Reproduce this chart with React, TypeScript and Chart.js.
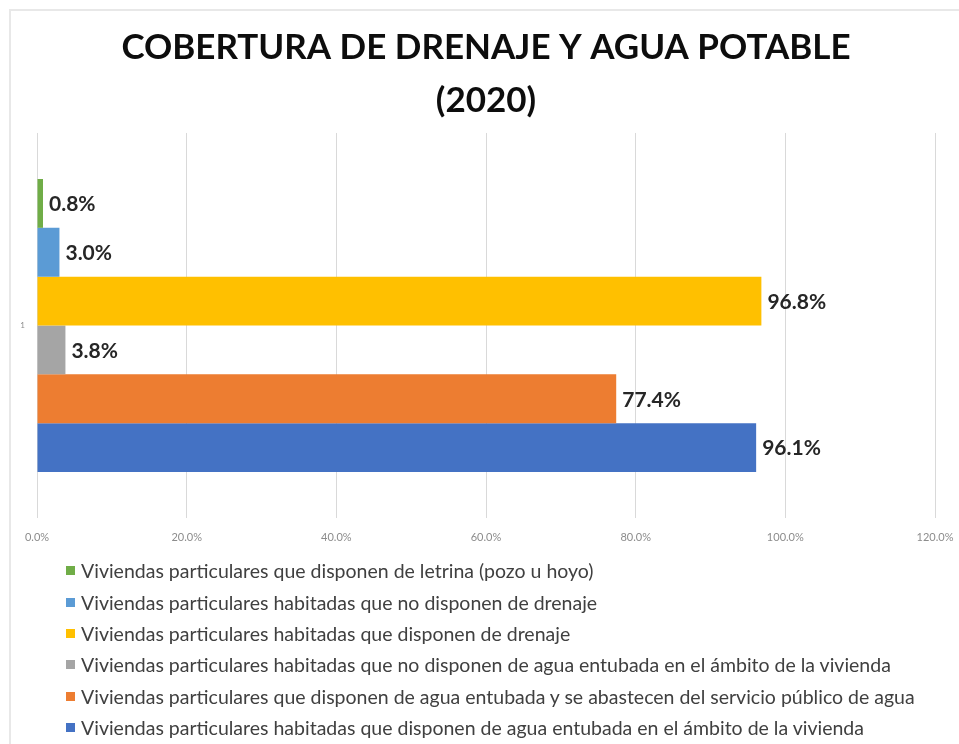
import React, { useEffect, useRef } from "react";
import { Chart, registerables } from "chart.js";

Chart.register(...registerables);

const categories = ["1"];
const seriesLabels = [
  "Viviendas particulares que disponen de letrina (pozo u hoyo)",
  "Viviendas particulares habitadas que no disponen de drenaje",
  "Viviendas particulares habitadas que disponen de drenaje",
  "Viviendas particulares habitadas que no disponen de agua entubada en el ámbito de la vivienda",
  "Viviendas particulares que disponen de agua entubada y se abastecen del servicio público de agua",
  "Viviendas particulares habitadas que disponen de agua entubada en el ámbito de la vivienda",
];
const seriesValues = [0.8, 3.0, 96.8, 3.8, 77.4, 96.1];
const seriesColors = ["#70AD47", "#5B9BD5", "#FFC000", "#A5A5A5", "#ED7D31", "#4472C4"];
const titleLines = ["COBERTURA DE DRENAJE Y AGUA POTABLE", "(2020)"];
const xMin = 0;
const xMax = 120;
const xStep = 20;

const FONT = "Lato, 'Open Sans', sans-serif";

const valueLabelPlugin = {
  id: "valueLabels",
  afterDatasetsDraw(chart: any) {
    const ctx = chart.ctx;
    ctx.save();
    ctx.font = `bold 21px ${FONT}`;
    ctx.fillStyle = "#262626";
    ctx.textAlign = "left";
    ctx.textBaseline = "middle";
    chart.data.datasets.forEach((ds: any, i: number) => {
      const meta = chart.getDatasetMeta(i);
      meta.data.forEach((bar: any, j: number) => {
        const v = ds.data[j];
        ctx.fillText(`${Number(v).toFixed(1)}%`, bar.x + 6, bar.y + 1);
      });
    });
    ctx.restore();
  },
};

export default function App() {
  const canvasRef = useRef<HTMLCanvasElement | null>(null);

  useEffect(() => {
    if (!canvasRef.current) return;
    const chart = new Chart(canvasRef.current, {
      type: "bar",
      data: {
        labels: categories,
        datasets: seriesLabels.map((label, i) => ({
          label,
          data: [seriesValues[i]],
          backgroundColor: seriesColors[i],
          borderWidth: 0,
          categoryPercentage: 0.761,
          barPercentage: 1,
        })),
      },
      options: {
        indexAxis: "y",
        animation: false,
        responsive: false,
        maintainAspectRatio: false,
        layout: { padding: { left: 0, right: 24, top: 0, bottom: 0 } },
        plugins: {
          legend: { display: false },
          tooltip: { enabled: false },
          title: {
            display: true,
            text: titleLines,
            fullSize: false,
            color: "#0d0d0d",
            font: { family: FONT, size: 35, weight: "bold", lineHeight: 1.514 },
            padding: { top: 21, bottom: 6 },
          },
        },
        scales: {
          x: {
            min: xMin,
            max: xMax,
            ticks: {
              stepSize: xStep,
              callback: (v: any) => `${Number(v).toFixed(1)}%`,
              color: "#8c8c8c",
              font: { family: FONT, size: 11 },
              padding: 13,
            },
            grid: { color: "#d9d9d9", drawTicks: false, lineWidth: 1 },
            border: { display: false },
            afterFit: (scale: any) => {
              scale.height = 42;
              scale.paddingLeft = 0;
              scale.paddingRight = 0;
            },
          },
          y: {
            ticks: {
              color: "#8c8c8c",
              font: { family: FONT, size: 8 },
              padding: 12,
            },
            grid: { display: false, drawTicks: false },
            border: { display: false },
            afterFit: (scale: any) => {
              scale.width = 37;
            },
          },
        },
      },
      plugins: [valueLabelPlugin],
    } as any);
    return () => chart.destroy();
  }, []);

  return (
    <div
      style={{
        position: "absolute",
        left: 0,
        top: 0,
        width: 959,
        height: 744,
        overflow: "hidden",
        background: "#ffffff",
      }}
    >
      <div
        style={{
          position: "absolute",
          left: 9,
          top: 9,
          width: 1000,
          height: 800,
          border: "2px solid #e8e8e8",
          boxSizing: "border-box",
        }}
      />
      <canvas
        ref={canvasRef}
        width={959}
        height={560}
        style={{ position: "absolute", left: 0, top: 0, width: 959, height: 560 }}
      />
      <div style={{ position: "absolute", left: 66, top: 555 }}>
        {seriesLabels.map((label, i) => (
          <div
            key={i}
            style={{
              height: 31.4,
              display: "flex",
              alignItems: "center",
              whiteSpace: "nowrap",
              fontFamily: FONT,
              fontSize: 19.5,
              color: "#404040",
            }}
          >
            <span
              style={{
                display: "inline-block",
                width: 9,
                height: 9,
                background: seriesColors[i],
                marginRight: 6,
              }}
            />
            <span>{label}</span>
          </div>
        ))}
      </div>
    </div>
  );
}
